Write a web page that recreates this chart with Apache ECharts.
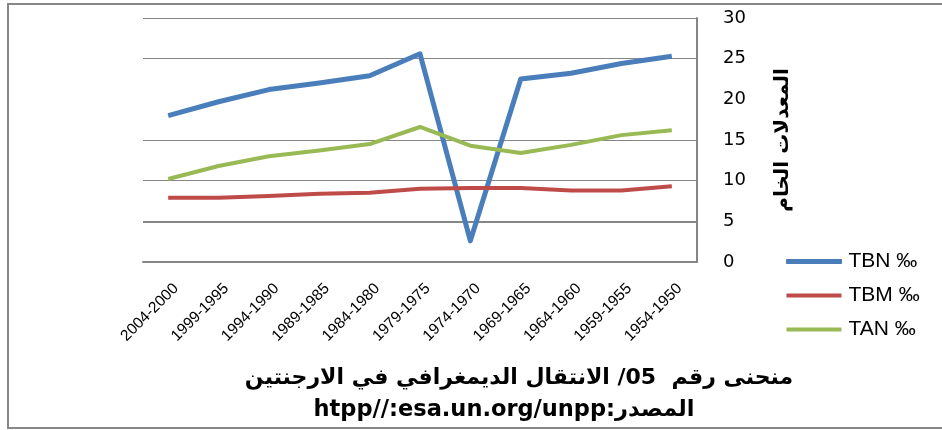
<!DOCTYPE html>
<html><head><meta charset="utf-8">
<script src="https://cdn.jsdelivr.net/npm/echarts@6/dist/echarts.min.js"></script>
<style>html,body{margin:0;padding:0;background:#fff}#c{width:942px;height:430px}</style>
</head><body><div id="c"></div>
<script>
const categories = ['2004-2000','1999-1995','1994-1990','1989-1985','1984-1980','1979-1975','1974-1970','1969-1965','1964-1960','1959-1955','1954-1950'];
const tbnValues = [18.0, 19.7, 21.2, 22.0, 22.9, 25.6, 2.6, 22.5, 23.2, 24.4, 25.3];
const tbmValues = [7.9, 7.9, 8.1, 8.4, 8.5, 9.0, 9.1, 9.1, 8.8, 8.8, 9.3];
const tanValues = [10.2, 11.8, 13.0, 13.7, 14.5, 16.6, 14.3, 13.4, 14.4, 15.6, 16.2];
const gridLineValues = [30, 25, 15, 10, 5];
const seriesNames = ['TBN \u2030', 'TBM \u2030', 'TAN \u2030'];
const titleLine1 = 'منحنى رقم  05/ الانتقال الديمغرافي في الارجنتين';
const titleLine2 = 'htpp//:esa.un.org/unpp:المصدر';
const yAxisName = 'المعدلات الخام';

const gridColor = '#868686';
const colors = ['#4A7EBB', '#BE4B48', '#98B954'];
const chart = echarts.init(document.getElementById('c'), null, {renderer: 'canvas'});
chart.setOption({
  animation: false,
  grid: {left: 143, right: 245, top: 18, bottom: 168, containLabel: false},
  xAxis: {
    type: 'category', data: categories, boundaryGap: true,
    axisLine: {lineStyle: {color: gridColor, width: 2}},
    axisTick: {show: false},
    axisLabel: {rotate: 45, interval: 0, margin: 32, padding: [0, -11, 0, 0],
      fontFamily: 'Liberation Sans', fontSize: 15.5, color: '#000'}
  },
  yAxis: {
    type: 'value', position: 'right', min: 0, max: 30, interval: 5,
    axisLine: {show: true, lineStyle: {color: gridColor, width: 2}},
    axisTick: {show: false}, splitLine: {show: false},
    axisLabel: {margin: 26, fontFamily: 'DejaVu Sans', fontSize: 18, color: '#000'},
    name: yAxisName, nameLocation: 'middle', nameRotate: 90, nameGap: 76,
    nameTextStyle: {fontFamily: 'DejaVu Sans', fontWeight: 'bold', fontSize: 20, color: '#000'}
  },
  legend: {
    orient: 'vertical', left: 781, top: 246, itemWidth: 55, itemHeight: 4, itemGap: 13,
    icon: 'rect',
    textStyle: {fontFamily: 'Liberation Sans', fontSize: 21, color: '#000', padding: [0, 0, 0, 2]},
    data: [
      {name: seriesNames[0], itemStyle: {color: colors[0], borderColor: colors[0], borderWidth: 1}},
      {name: seriesNames[1], itemStyle: {color: colors[1], borderWidth: 0}},
      {name: seriesNames[2], itemStyle: {color: colors[2], borderWidth: 0}}
    ]
  },
  graphic: [
    {type: 'rect', shape: {x: 8, y: 4, width: 940, height: 424}, style: {fill: 'none', stroke: gridColor, lineWidth: 2}, silent: true},
    {type: 'text', x: 519, y: 378, style: {text: titleLine1, fontFamily: 'DejaVu Sans', fontWeight: 'bold', fontSize: 22, fill: '#000', align: 'center', verticalAlign: 'middle'}},
    {type: 'text', x: 504, y: 410, style: {text: titleLine2, fontFamily: 'DejaVu Sans', fontWeight: 'bold', fontSize: 22.5, fill: '#000', align: 'center', verticalAlign: 'middle'}}
  ],
  series: [
    {name: seriesNames[0], type: 'line', data: tbnValues, symbol: 'none', z: 3,
      lineStyle: {color: colors[0], width: 5, join: 'round'}, itemStyle: {color: colors[0]},
      markLine: {silent: true, z: 1, symbol: ['none', 'none'], label: {show: false}, animation: false,
        data: gridLineValues.map(v => ({yAxis: v, lineStyle: {color: gridColor, type: 'solid', width: v === 5 ? 2 : 1}}))}},
    {name: seriesNames[1], type: 'line', data: tbmValues, symbol: 'none', z: 3,
      lineStyle: {color: colors[1], width: 4, join: 'round'}, itemStyle: {color: colors[1]}},
    {name: seriesNames[2], type: 'line', data: tanValues, symbol: 'none', z: 3,
      lineStyle: {color: colors[2], width: 4, join: 'round'}, itemStyle: {color: colors[2]}}
  ]
});
</script></body></html>
